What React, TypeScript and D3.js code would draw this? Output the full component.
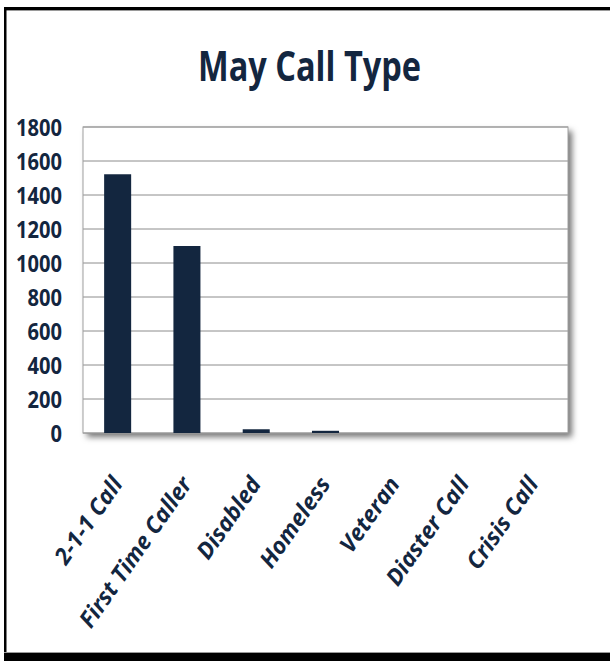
import React from "react";
import * as d3 from "d3";

const categories = ["2-1-1 Call", "First Time Caller", "Disabled", "Homeless", "Veteran", "Diaster Call", "Crisis Call"];
const values = [1522, 1100, 22, 13, 0, 0, 0];
const yTicks = [0, 200, 400, 600, 800, 1000, 1200, 1400, 1600, 1800];
const title = "May Call Type";

const W = 610;
const H = 661;
const navy = "#13263f";

export default function App() {
  const plot = { left: 83, right: 568, top: 127, bottom: 433 };
  const x = d3.scaleBand<string>().domain(categories).range([plot.left, plot.right]).paddingInner(0.61).paddingOuter(0.305);
  const y = d3.scaleLinear().domain([0, 1800]).range([plot.bottom, plot.top]);

  return (
    <svg width={W} height={H} style={{ position: "absolute", left: 0, top: 0, background: "#fff" }}>
      <defs>
        <filter id="shadow" x="-10%" y="-10%" width="130%" height="130%">
          <feDropShadow dx="4" dy="4" stdDeviation="3" floodColor="#000" floodOpacity="0.55" />
        </filter>
      </defs>
      {/* frame */}
      <rect x={0} y={0} width={W} height={H} fill="#fff" />
      <rect x={4} y={7} width={W - 4} height={3} fill="#000" />
      <rect x={4} y={10} width={W - 4} height={1} fill="#9a9a9a" />
      <rect x={4} y={7} width={2.5} height={H - 7} fill="#000" />
      <rect x={4} y={652} width={W - 4} height={1} fill="#9a9a9a" />
      <rect x={4} y={653} width={W - 4} height={H - 653} fill="#000" />

      <text
        x={(198 + 421) / 2}
        y={81}
        textAnchor="middle"
        fontFamily="'Open Sans', sans-serif"
        fontWeight={700}
        fontSize={42}
        fill={navy}
        textLength={223}
        lengthAdjust="spacingAndGlyphs"
      >
        {title}
      </text>

      {/* plot background with shadow */}
      <rect
        x={plot.left}
        y={plot.top}
        width={plot.right - plot.left}
        height={plot.bottom - plot.top}
        fill="#fff"
        filter="url(#shadow)"
      />
      {yTicks.map((t) => (
        <line key={"g" + t} x1={plot.left} x2={plot.right} y1={y(t)} y2={y(t)} stroke="#8c8c8c" strokeWidth={1} />
      ))}
      <rect
        x={plot.left}
        y={plot.top}
        width={plot.right - plot.left}
        height={plot.bottom - plot.top}
        fill="none"
        stroke="#a0a0a0"
        strokeWidth={1}
      />
      {categories.map((c, i) => {
        const v = values[i];
        if (v <= 0) return null;
        return (
          <rect key={c} x={x(c)} y={y(v)} width={x.bandwidth()} height={y(0) - y(v)} fill={navy} />
        );
      })}
      {yTicks.map((t) => {
        const s = String(t);
        return (
          <text
            key={"l" + t}
            x={62}
            y={y(t) + 8.5}
            textAnchor="end"
            fontFamily="'Open Sans', sans-serif"
            fontWeight={700}
            fontSize={24}
            fill={navy}
            textLength={s.length * 11.5}
            lengthAdjust="spacingAndGlyphs"
          >
            {s}
          </text>
        );
      })}
      {categories.map((c) => {
        const cx = (x(c) as number) + x.bandwidth() / 2;
        const ax = cx + 6;
        const ay = 484;
        return (
          <text
            key={"x" + c}
            x={ax}
            y={ay}
            transform={`rotate(-55 ${ax} ${ay})`}
            textAnchor="end"
            fontFamily="'Open Sans', sans-serif"
            fontWeight={700}
            fontStyle="italic"
            fontSize={23}
            fill={navy}
          >
            {c}
          </text>
        );
      })}
    </svg>
  );
}
